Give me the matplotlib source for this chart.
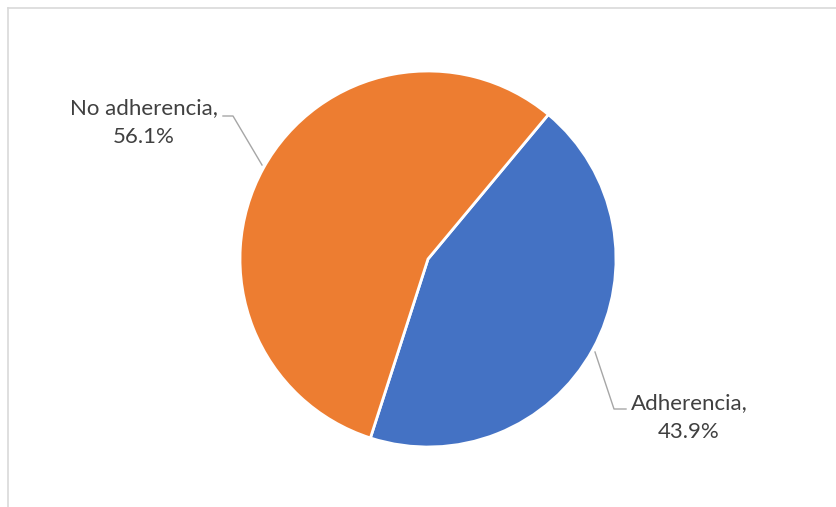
import matplotlib
matplotlib.use("Agg")
import matplotlib.pyplot as plt
from matplotlib.lines import Line2D

categories = ["Adherencia", "No adherencia"]
shares = [43.9, 56.1]
colors = ["#4472C4", "#ED7D31"]

W, H = 837, 507
fig = plt.figure(figsize=(W / 100, H / 100), dpi=100)
ax = fig.add_axes([0, 0, 1, 1])

# chart frame (top and left edges visible)
fig.add_artist(Line2D([8 / W, 8 / W], [0, 1 - 8 / H], color="#d9d9d9", lw=1.2, transform=fig.transFigure))
fig.add_artist(Line2D([8 / W, 1], [1 - 8 / H, 1 - 8 / H], color="#d9d9d9", lw=1.2, transform=fig.transFigure))

cx, cy, r = 428, H - 259, 188
ax.pie(shares, colors=colors, startangle=50.2, counterclock=False,
       center=(cx, cy), radius=r, frame=True,
       wedgeprops=dict(edgecolor="white", linewidth=2))
ax.set_xlim(0, W)
ax.set_ylim(0, H)
ax.set_aspect("equal")
ax.axis("off")

font = dict(family="Lato", size=16, color="#404040")
lead = dict(color="#a6a6a6", lw=1.0)

# No adherencia label and leader
ax.plot([262, 233, 223], [H - 165, H - 116, H - 116], **lead)
ax.text(144, H - 108, f"{categories[1]},", ha="center", va="center", **font)
ax.text(144, H - 137, f"{shares[1]:.1f}%", ha="center", va="center", **font)

# Adherencia label and leader
ax.plot([595, 614, 626], [H - 352, H - 409, H - 409], **lead)
ax.text(689, H - 403, f"{categories[0]},", ha="center", va="center", **font)
ax.text(689, H - 432, f"{shares[0]:.1f}%", ha="center", va="center", **font)

fig.savefig("out.png", dpi=100)
